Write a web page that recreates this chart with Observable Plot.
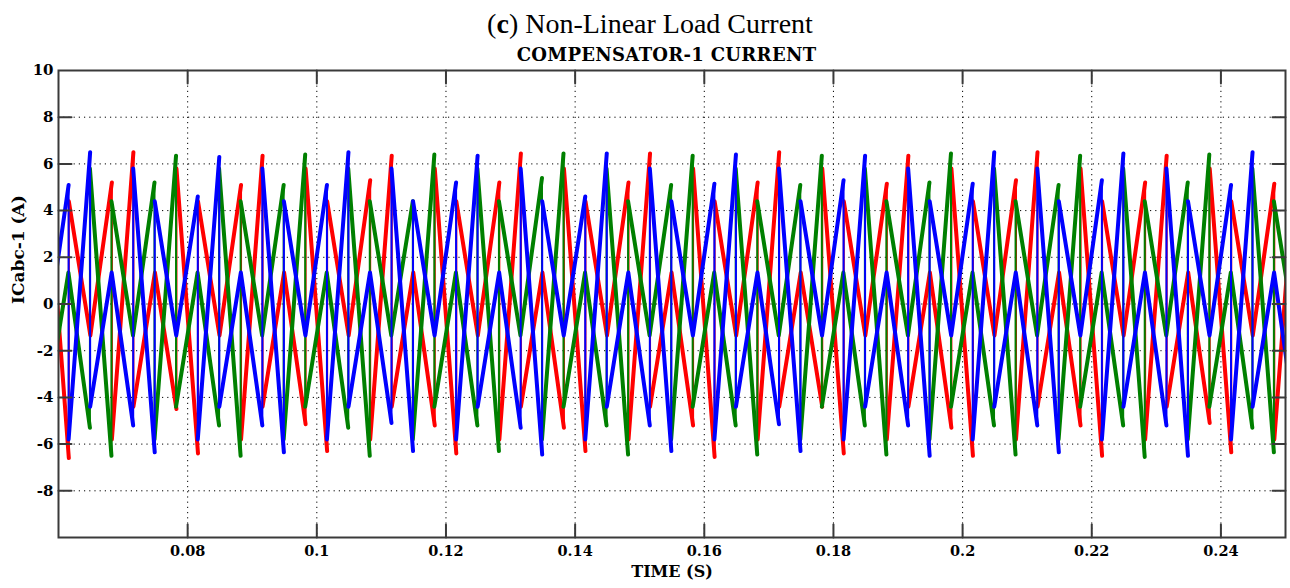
<!DOCTYPE html>
<html><head><meta charset="utf-8">
<script src="https://cdn.jsdelivr.net/npm/d3@7"></script>
<script src="https://cdn.jsdelivr.net/npm/@observablehq/plot@0.6"></script>
<style>
body{margin:0;background:#fff;}
#wrap{position:relative;width:1290px;height:588px;overflow:hidden;background:#fff;}
#chart{position:absolute;left:0;top:0;}
#title{position:absolute;left:0;width:1300px;top:10px;text-align:center;font-family:"Liberation Serif",serif;font-size:28px;line-height:28px;color:#000;white-space:nowrap;}
#sub{position:absolute;left:0;width:1333px;top:46px;text-align:center;font-family:"DejaVu Serif",serif;font-weight:bold;font-size:18px;line-height:18px;letter-spacing:0.3px;color:#000;white-space:nowrap;}
</style></head>
<body><div id="wrap">
<div id="chart"></div>
<div id="title">(<b>c</b>) Non-Linear Load Current</div>
<div id="sub">COMPENSATOR-1 CURRENT</div>
</div>
<script>
// ---- axis ticks ----
const xTicks = [0.08, 0.1, 0.12, 0.14, 0.16, 0.18, 0.2, 0.22, 0.24];
const yTicks = [10, 8, 6, 4, 2, 0, -2, -4, -6, -8];
const yGrid = [8, 6, 4, 2, 0, -2, -4, -6, -8];

// ---- waveform data ----
const period = 0.02;           // fundamental period (s)
// levels after the thin vertical jumps and at the thick bumps
const jumpAfterSecPos = -5.8;
const jumpAfterTallPos = -4.4;
const jumpAfterSecNeg = 5.8;
const jumpAfterTallNeg = 4.4;
const bumpPos = 1.35;
const bumpNeg = -1.35;

// Phase shown in blue
const blueTallTimes = [0.0449, 0.0649, 0.0849, 0.1049, 0.1249, 0.1449, 0.1649, 0.1849, 0.2049, 0.2249, 0.2449];
const blueTallPos   = [6.4, 6.5, 6.3, 6.5, 6.35, 6.45, 6.4, 6.35, 6.5, 6.45, 6.5];
const blueSecPos    = [5.1, 5.1, 4.6, 5.1, 5.2, 4.6, 5.15, 5.3, 5.15, 5.3, 5.1, 5.1];
const blueTallNeg   = [-6.4, -6.35, -6.35, -6.3, -6.45, -6.3, -6.3, -6.5, -6.35, -6.5, -6.4];
const blueSecNeg    = [-5.2, -5.2, -5.2, -5.1, -5.3, -5.2, -5.15, -5.2, -5.2, -5.2, -5.2];

// Phase shown in red
const redTallTimes = [0.0516, 0.0716, 0.0916, 0.1116, 0.1316, 0.1516, 0.1716, 0.1916, 0.2116, 0.2316, 0.2516];
const redTallPos   = [6.4, 6.5, 6.35, 6.35, 6.45, 6.45, 6.5, 6.35, 6.5, 6.35, 6.4];
const redSecPos    = [5.2, 5.2, 5.1, 5.3, 5.2, 5.2, 5.2, 5.15, 5.3, 5.2, 5.15, 5.2];
const redTallNeg   = [-6.6, -6.4, -6.3, -6.4, -6.3, -6.55, -6.4, -6.5, -6.5, -6.35, -6.4];
const redSecNeg    = [-5.2, -4.5, -5.15, -5.2, -5.3, -5.2, -4.4, -5.3, -5.2, -5.1, -5.2];

// Phase shown in green
const greenTallTimes = [0.0582, 0.0782, 0.0982, 0.1182, 0.1382, 0.1582, 0.1782, 0.1982, 0.2182, 0.2382, 0.2582];
const greenTallPos   = [6.4, 6.35, 6.4, 6.4, 6.45, 6.35, 6.35, 6.45, 6.35, 6.4, 6.4];
const greenSecPos    = [5.2, 5.2, 5.1, 4.4, 5.4, 5.1, 5.1, 5.2, 5.1, 5.2, 5.2, 5.2];
const greenTallNeg   = [-6.5, -6.5, -6.5, -6.3, -6.45, -6.45, -6.45, -6.45, -6.55, -6.35, -6.4];
const greenSecNeg    = [-5.3, -5.2, -5.3, -5.2, -5.2, -5.2, -5.2, -5.2, -5.2, -5.3, -5.2];

const seriesNames = ["red", "green", "blue"];
const seriesColors = {red: "#ff0000", green: "#008000", blue: "#0000ff"};

// ---- build vertex tables ----
const P = period / 6;
function buildSeries(name, tallTimes, tallPos, secPos, tallNeg, secNeg) {
  const pts = [];
  tallTimes.forEach((tp, i) => {
    const r = name + i;
    pts.push({s: name, run: r + "a", t: tp - P, v: jumpAfterSecPos});
    pts.push({s: name, run: r + "a", t: tp, v: tallPos[i]});
    pts.push({s: name, run: r + "b", t: tp, v: jumpAfterTallPos});
    pts.push({s: name, run: r + "b", t: tp + P, v: bumpPos});
    pts.push({s: name, run: r + "b", t: tp + 2 * P, v: secNeg[i]});
    pts.push({s: name, run: r + "c", t: tp + 2 * P, v: jumpAfterSecNeg});
    pts.push({s: name, run: r + "c", t: tp + 3 * P, v: tallNeg[i]});
    pts.push({s: name, run: r + "d", t: tp + 3 * P, v: jumpAfterTallNeg});
    pts.push({s: name, run: r + "d", t: tp + 4 * P, v: bumpNeg});
    pts.push({s: name, run: r + "d", t: tp + 5 * P, v: secPos[i + 1]});
  });
  return pts;
}
const data = {
  red: buildSeries("red", redTallTimes, redTallPos, redSecPos, redTallNeg, redSecNeg),
  green: buildSeries("green", greenTallTimes, greenTallPos, greenSecPos, greenTallNeg, greenSecNeg),
  blue: buildSeries("blue", blueTallTimes, blueTallPos, blueSecPos, blueTallNeg, blueSecNeg)
};

const axisColor = "#3a3a3a";
const tickShape = {draw(context, l) { context.moveTo(0, 0); context.lineTo(0, -l); }};
const tickLen = 13;

const marks = [
  Plot.ruleX(xTicks, {x: d => d, stroke: "#000", strokeWidth: 1, strokeDasharray: "1.2,4"}),
  Plot.ruleY(yGrid, {y: d => d, stroke: "#000", strokeWidth: 1, strokeDasharray: "1.2,4"})
];
for (const s of seriesNames) {
  marks.push(Plot.line(data[s], {x: "t", y: "v", z: "run", stroke: seriesColors[s], strokeWidth: 4, clip: true}));
  marks.push(Plot.line(data[s], {x: "t", y: "v", stroke: seriesColors[s], strokeWidth: 2, clip: true}));
}
marks.push(
  Plot.vector(xTicks, {x: d => d, frameAnchor: "bottom", length: tickLen, rotate: 0, anchor: "start", shape: tickShape, stroke: axisColor, strokeWidth: 2}),
  Plot.vector(xTicks, {x: d => d, frameAnchor: "top", length: tickLen, rotate: 180, anchor: "start", shape: tickShape, stroke: axisColor, strokeWidth: 2}),
  Plot.vector(yGrid, {y: d => d, frameAnchor: "left", length: tickLen, rotate: 90, anchor: "start", shape: tickShape, stroke: axisColor, strokeWidth: 2}),
  Plot.vector(yGrid, {y: d => d, frameAnchor: "right", length: tickLen, rotate: -90, anchor: "start", shape: tickShape, stroke: axisColor, strokeWidth: 2}),
  Plot.frame({stroke: axisColor, strokeWidth: 2}),
  Plot.axisX(xTicks, {tickSize: 0, tickPadding: 8, tickFormat: d => String(d), fontSize: 14.5, fontWeight: "bold", fontFamily: "DejaVu Serif", fill: "#000", label: null}),
  Plot.axisY(yTicks, {tickSize: 0, tickPadding: 5, tickFormat: d => String(d), fontSize: 15, fontWeight: "bold", fontFamily: "DejaVu Serif", fill: "#000", label: null}),
  Plot.text(["TIME (S)"], {text: d => d, frameAnchor: "bottom", dy: 39, fontWeight: "bold", fontSize: 16, fontFamily: "DejaVu Serif", fill: "#000"}),
  Plot.text(["ICabc-1 (A)"], {text: d => d, frameAnchor: "left", dx: -40, rotate: -90, fontWeight: "bold", fontSize: 17, fontFamily: "DejaVu Serif", fill: "#000"})
);

const chart = Plot.plot({
  width: 1290,
  height: 588,
  marginTop: 70,
  marginBottom: 51,
  marginLeft: 58,
  marginRight: 5,
  x: {domain: [0.06, 0.25]},
  y: {domain: [-10, 10]},
  style: {background: "#fff", color: "#000", fontFamily: "DejaVu Serif", fontSize: "15px"},
  marks
});
document.getElementById("chart").appendChild(chart);
</script>
</body></html>
